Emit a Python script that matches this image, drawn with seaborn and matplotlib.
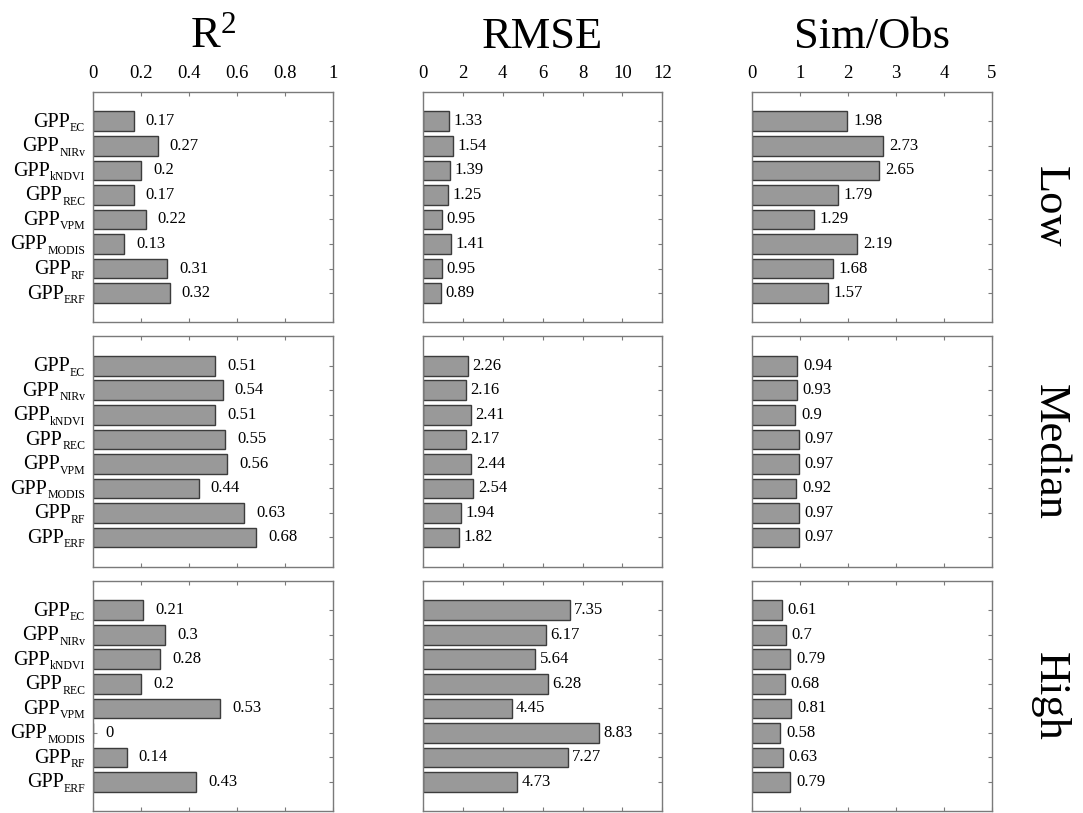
import numpy as np
import pandas as pd
import matplotlib
matplotlib.use('Agg')
import matplotlib.pyplot as plt
import seaborn as sns

# ---- data ----
methods = ['EC', 'NIRv', 'kNDVI', 'REC', 'VPM', 'MODIS', 'RF', 'ERF']
levels = ['Low', 'Median', 'High']
metrics = ['R2', 'RMSE', 'SimObs']

r2_low = [0.17, 0.27, 0.20, 0.17, 0.22, 0.13, 0.31, 0.32]
r2_median = [0.51, 0.54, 0.51, 0.55, 0.56, 0.44, 0.63, 0.68]
r2_high = [0.21, 0.30, 0.28, 0.20, 0.53, 0.00, 0.14, 0.43]

rmse_low = [1.33, 1.54, 1.39, 1.25, 0.95, 1.41, 0.95, 0.89]
rmse_median = [2.26, 2.16, 2.41, 2.17, 2.44, 2.54, 1.94, 1.82]
rmse_high = [7.35, 6.17, 5.64, 6.28, 4.45, 8.83, 7.27, 4.73]

simobs_low = [1.98, 2.73, 2.65, 1.79, 1.29, 2.19, 1.68, 1.57]
simobs_median = [0.94, 0.93, 0.90, 0.97, 0.97, 0.92, 0.97, 0.97]
simobs_high = [0.61, 0.70, 0.79, 0.68, 0.81, 0.58, 0.63, 0.79]

col_titles = ['R$^2$', 'RMSE', 'Sim/Obs']
x_limits = [1, 12, 5]
x_ticks = [[0, 0.2, 0.4, 0.6, 0.8, 1], [0, 2, 4, 6, 8, 10, 12], [0, 1, 2, 3, 4, 5]]
x_ticklabels = [['0', '0.2', '0.4', '0.6', '0.8', '1'],
                ['0', '2', '4', '6', '8', '10', '12'],
                ['0', '1', '2', '3', '4', '5']]
label_offsets = [0.05, 0.22, 0.12]

values = {
    ('R2', 'Low'): r2_low, ('R2', 'Median'): r2_median, ('R2', 'High'): r2_high,
    ('RMSE', 'Low'): rmse_low, ('RMSE', 'Median'): rmse_median, ('RMSE', 'High'): rmse_high,
    ('SimObs', 'Low'): simobs_low, ('SimObs', 'Median'): simobs_median, ('SimObs', 'High'): simobs_high,
}

rows = []
for (metric, level), vals in values.items():
    for m, v in zip(methods, vals):
        rows.append({'metric': metric, 'level': level, 'method': m, 'value': v})
df = pd.DataFrame(rows)

# ---- style ----
sns.set_theme(style='white')
plt.rcParams['font.family'] = ['Liberation Serif', 'DejaVu Serif']
plt.rcParams['mathtext.fontset'] = 'custom'
plt.rcParams['mathtext.rm'] = 'Liberation Serif'
plt.rcParams['mathtext.it'] = 'Liberation Serif:italic'
plt.rcParams['text.color'] = 'black'
plt.rcParams['xtick.labelcolor'] = 'black'
plt.rcParams['ytick.labelcolor'] = 'black'

bar_color = '#999999'
edge_color = '#3c3c3c'
spine_color = '#7a7a7a'

fig, axes = plt.subplots(3, 3, figsize=(10.83, 8.13), dpi=100)
fig.subplots_adjust(left=0.086, right=0.916, top=0.887, bottom=0.002,
                    wspace=0.375, hspace=0.06)


def gpp_labels(ax):
    # "GPP" with a small subscript, right-aligned left of the axis
    for k, m in enumerate(methods):
        sub = ax.annotate(m, xy=(0, k), xycoords=('axes fraction', 'data'),
                          xytext=(-8, -10), textcoords='offset pixels',
                          ha='right', va='baseline', fontsize=8.5)
        ax.annotate('GPP', xy=(0, 0), xycoords=sub,
                    xytext=(0, 7.5), textcoords='offset pixels',
                    ha='right', va='baseline', fontsize=14.5)


for i, level in enumerate(levels):
    for j, metric in enumerate(metrics):
        ax = axes[i, j]
        sub = df[(df['metric'] == metric) & (df['level'] == level)]
        sns.barplot(data=sub, x='value', y='method', order=methods, orient='h',
                    color=bar_color, edgecolor=edge_color, linewidth=1.0,
                    width=0.8, saturation=1, ax=ax)
        for k, v in enumerate(sub['value']):
            ax.text(v + label_offsets[j], k, f'{v:g}', va='center', ha='left',
                    fontsize=12, color='black')
        ax.set_xlim(0, x_limits[j])
        ax.set_ylim(len(methods) - 1 + 1.2, -1.2)
        ax.set_xticks(x_ticks[j])
        ax.set_xlabel('')
        ax.set_ylabel('')
        for s in ax.spines.values():
            s.set_visible(True)
            s.set_color(spine_color)
            s.set_linewidth(1.0)
        ax.tick_params(axis='both', direction='in', length=3, width=0.8,
                       color=spine_color, top=True, bottom=True, left=True, right=True)
        if i == 0:
            ax.set_xticklabels(x_ticklabels[j])
            ax.tick_params(axis='x', labeltop=True, labelbottom=False,
                           labelsize=13.5, pad=7)
        else:
            ax.tick_params(axis='x', labeltop=False, labelbottom=False)
        ax.set_yticks(range(len(methods)))
        ax.tick_params(axis='y', labelleft=False)
        if j == 0:
            gpp_labels(ax)

# column titles
for j, title in enumerate(col_titles):
    pos = axes[0, j].get_position()
    fig.text((pos.x0 + pos.x1) / 2, 0.955, title, ha='center', va='center',
             fontsize=32)

# row labels
for i, level in enumerate(levels):
    pos = axes[i, 2].get_position()
    fig.text(0.969, (pos.y0 + pos.y1) / 2, level, ha='center', va='center',
             rotation=-90, fontsize=32)

plt.savefig('out.png', dpi=100)
plt.close()
